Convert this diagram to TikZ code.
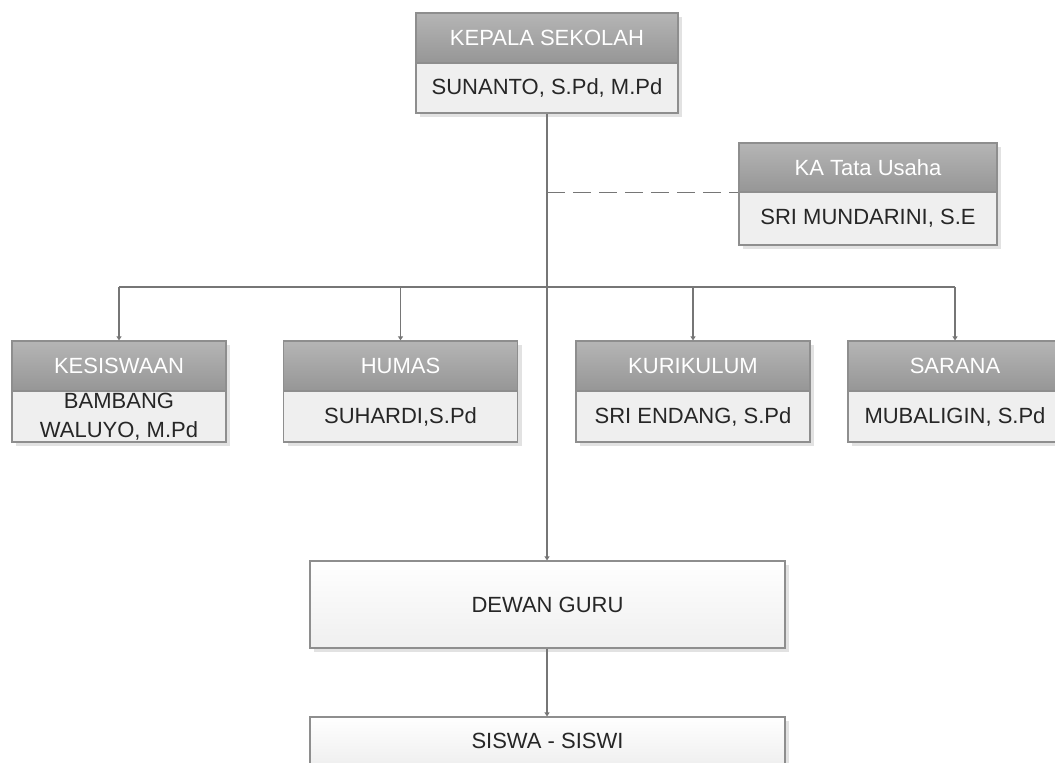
\documentclass[tikz,border=0pt]{standalone}
\usepackage{fontspec}
\setmainfont{Liberation Sans}
\usetikzlibrary{arrows.meta,shadows}
\definecolor{linec}{HTML}{767676}
\definecolor{borderc}{HTML}{8E8E8E}
\definecolor{headtop}{HTML}{B5B5B5}
\definecolor{headbot}{HTML}{969696}
\definecolor{bodyc}{HTML}{EFEFEF}
\definecolor{txtc}{HTML}{262626}
\definecolor{shadc}{HTML}{E2E2E2}
\tikzset{
  boxshadow/.style={drop shadow={shadow xshift=4pt,shadow yshift=-4pt,fill=shadc,opacity=1}},
  headbox/.style={draw=borderc,line width=1.2pt,top color=headtop,bottom color=headbot,
    text=white,inner sep=0pt,font=\fontsize{22}{26}\selectfont,boxshadow},
  bodybox/.style={draw=borderc,line width=1.2pt,fill=bodyc,text=txtc,inner sep=0pt,
    align=center,font=\fontsize{22}{29}\selectfont,boxshadow},
  bigbox/.style={draw=borderc,line width=1.2pt,top color=white,bottom color=bodyc,
    text=txtc,inner sep=0pt,font=\fontsize{22}{26}\selectfont,boxshadow},
  conn/.style={draw=linec,line width=1.4pt},
  arr/.style={conn,-{Triangle[width=5pt,length=4pt]}},
  dashconn/.style={conn,dash pattern=on 18pt off 8pt}
}
\begin{document}
\begin{tikzpicture}[x=1pt,y=-1pt]
\useasboundingbox (0,0) rectangle (1055,763);
\clip (0,0) rectangle (1055,763);
% top
\node[headbox,minimum width=262pt,minimum height=50pt] (kh) at (547,38) {KEPALA SEKOLAH};
\node[bodybox,minimum width=262pt,minimum height=50pt] (kb) at (547,88) {SUNANTO, S.Pd, M.Pd};
% tata usaha
\node[headbox,minimum width=258pt,minimum height=49pt] (th) at (868,167.5) {KA Tata Usaha};
\node[bodybox,minimum width=258pt,minimum height=53pt] (tb) at (868,218.5) {SRI MUNDARINI, S.E};
% row
\node[headbox,minimum width=214pt,minimum height=50pt] (h1) at (119,366) {KESISWAAN};
\node[bodybox,minimum width=214pt,minimum height=51pt] (b1) at (119,416.5) {BAMBANG\\WALUYO, M.Pd};
\node[headbox,minimum width=234pt,minimum height=50pt] (h2) at (400.5,366) {HUMAS};
\node[bodybox,minimum width=234pt,minimum height=51pt] (b2) at (400.5,416.5) {SUHARDI,S.Pd};
\node[headbox,minimum width=234pt,minimum height=50pt] (h3) at (693,366) {KURIKULUM};
\node[bodybox,minimum width=234pt,minimum height=51pt] (b3) at (693,416.5) {SRI ENDANG, S.Pd};
\node[headbox,minimum width=214pt,minimum height=50pt] (h4) at (955,366) {SARANA};
\node[bodybox,minimum width=214pt,minimum height=51pt] (b4) at (955,416.5) {MUBALIGIN, S.Pd};
% lower
\node[bigbox,minimum width=475pt,minimum height=87pt] (dg) at (547.5,604.5) {DEWAN GURU};
\node[bigbox,minimum width=475pt,minimum height=48pt] (ss) at (547.5,741) {SISWA - SISWI};
% connectors
\coordinate (bus) at (547,287);
\draw[arr] (kb.south) -- (kb.south |- dg.north);
\draw[dashconn] (kb.south |- th.south west) -- (th.south west);
\draw[conn] (bus) -- (bus -| h1.north);
\draw[conn] (bus) -- (bus -| h4.north);
\draw[arr] (bus -| h1.north) -- (h1.north);
\draw[arr] (bus -| h2.north) -- (h2.north);
\draw[arr] (bus -| h3.north) -- (h3.north);
\draw[arr] (bus -| h4.north) -- (h4.north);
\draw[arr] (dg.south -| kb.south) -- (ss.north -| kb.south);
\end{tikzpicture}
\end{document}
